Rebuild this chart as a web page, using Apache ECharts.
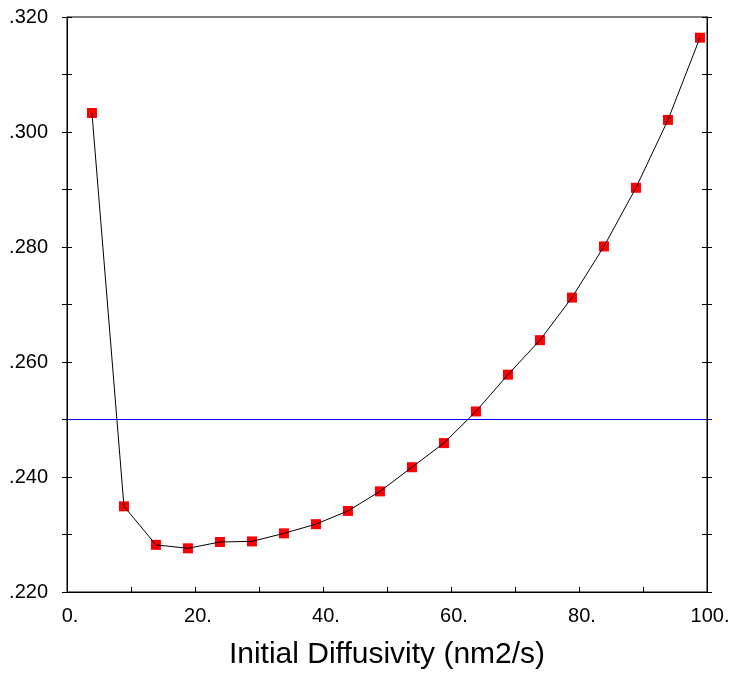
<!DOCTYPE html>
<html><head><meta charset="utf-8">
<script src="https://cdn.jsdelivr.net/npm/echarts@6/dist/echarts.min.js"></script>
<style>html,body{margin:0;padding:0;background:#fff}#c{width:733px;height:675px}</style>
</head><body><div id="c"></div>
<script>
const xValues = [3.9, 8.9, 13.9, 18.9, 23.9, 28.9, 33.9, 38.9, 43.9, 48.9, 53.9, 58.9, 63.9, 68.9, 73.9, 78.9, 83.9, 88.9, 93.9, 98.9];
const yValues = [0.3033, 0.2349, 0.2282, 0.2276, 0.2287, 0.2288, 0.2302, 0.2318, 0.2341, 0.2375, 0.2417, 0.2459, 0.2514, 0.2578, 0.2638, 0.2712, 0.2801, 0.2903, 0.3021, 0.3164];
const referenceLevel = 0.250;
const xRange = [0, 100];
const xTitle = 'Initial Diffusivity (nm2/s)';

const pts = xValues.map((x, i) => [x, yValues[i]]);
const refPts = xRange.map(x => [x, referenceLevel]);
const font = 'Liberation Sans, Arial, sans-serif';

function yAx(pos, inside, labels) {
  return {
    type: 'value', position: pos, min: 0.22, max: 0.32, interval: 0.01,
    axisLine: { show: true, onZero: false, lineStyle: { color: '#000', width: 1 } },
    axisTick: { show: true, inside: inside, length: 5, lineStyle: { color: '#000', width: 1 } },
    splitLine: { show: false },
    axisLabel: labels ? {
      show: true, margin: 19, fontSize: 20, color: '#000', fontFamily: font,
      formatter: v => { const m = Math.round(v * 1000); return m % 20 === 0 ? '.' + m : ''; }
    } : { show: false }
  };
}

const chart = echarts.init(document.getElementById('c'));
chart.setOption({
  animation: false,
  grid: { left: 67, right: 26, top: 17, bottom: 82, show: true, borderColor: '#000', borderWidth: 1 },
  xAxis: {
    type: 'value', min: xRange[0], max: xRange[1], interval: 10,
    name: xTitle, nameLocation: 'middle', nameGap: 48,
    nameTextStyle: { fontSize: 30, color: '#000', fontFamily: font },
    axisLine: { show: true, onZero: false, lineStyle: { color: '#000', width: 1 } },
    axisTick: { show: true, inside: true, length: 5, lineStyle: { color: '#000' } },
    splitLine: { show: false },
    axisLabel: {
      margin: 14, fontSize: 20, color: '#000', fontFamily: font, padding: [0, 0, 0, 6],
      formatter: v => (Math.round(v) % 20 === 0 ? Math.round(v) + '.' : '')
    }
  },
  yAxis: [yAx('left', false, true), yAx('left', true, false), yAx('right', true, false), yAx('right', false, false)],
  series: [
    {
      name: 'ref', type: 'line', data: refPts, yAxisIndex: 0, showSymbol: false, symbol: 'none',
      color: '#0000ff', itemStyle: { color: '#0000ff' },
      lineStyle: { color: '#0000ff', width: 1 }, z: 1, silent: true
    },
    {
      type: 'scatter', data: pts, yAxisIndex: 0, symbol: 'rect', symbolSize: [10, 10],
      itemStyle: { color: '#ff0000', opacity: 1 }, z: 2
    },
    {
      type: 'line', data: pts, yAxisIndex: 0, showSymbol: false, symbol: 'none',
      itemStyle: { color: '#000' },
      lineStyle: { color: '#000', width: 1 }, z: 3
    }
  ]
});
</script></body></html>
